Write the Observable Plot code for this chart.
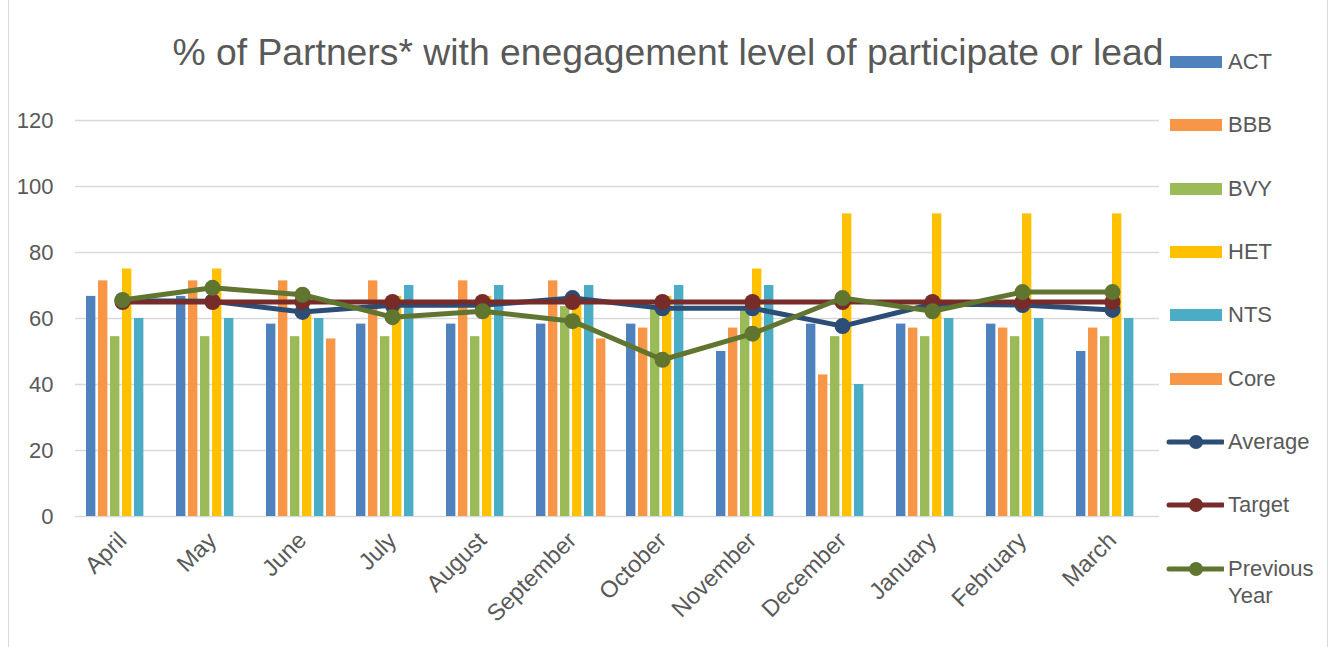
<!DOCTYPE html>
<html>
<head>
<meta charset="utf-8">
<script src="https://cdn.jsdelivr.net/npm/d3@7"></script>
<script src="https://cdn.jsdelivr.net/npm/@observablehq/plot@0.6"></script>
<style>
  html, body { margin: 0; padding: 0; background: #fff; }
  body { width: 1330px; height: 647px; position: relative; overflow: hidden; font-family: "Liberation Sans", Arial, sans-serif; color: #595959; }
  #frame { position: absolute; left: 8px; top: -2px; width: 1318px; height: 700px; border: 1px solid #D9D9D9; }
  #chart { position: absolute; left: 0; top: 0; }
  #title { position: absolute; left: 0; width: 1330px; top: 34px; line-height: 36px; text-align: center; font-size: 37.3px; white-space: nowrap; padding-left: 6px; box-sizing: border-box; }
  .leg { position: absolute; left: 1166px; font-size: 22px; display: flex; align-items: center; }
  .leg svg { margin-right: 4px; }
</style>
</head>
<body>
<div id="frame"></div>
<div id="chart"></div>
<div id="title">% of Partners* with enegagement level of participate or lead</div>
<div id="legend"></div>
<script>
const months = ["April","May","June","July","August","September","October","November","December","January","February","March"];
const ACT = [66.7,66.7,58.3,58.3,58.3,58.3,58.3,50,58.3,58.3,58.3,50];
const BBB = [71.4,71.4,71.4,71.4,71.4,71.4,57.1,57.1,42.9,57.1,57.1,57.1];
const BVY = [54.5,54.5,54.5,54.5,54.5,63.6,63.6,63.6,54.5,54.5,54.5,54.5];
const HET = [75,75,62.5,66.7,66.7,66.7,66.7,75,91.7,91.7,91.7,91.7];
const NTS = [60,60,60,70,70,70,70,70,40,60,60,60];
const Core = [null,null,53.8,null,null,53.8,null,null,null,null,null,null];
const Average = [65.4,65.2,62,64,64,66.2,63.1,63.1,57.7,64.4,64.1,62.6];
const Target = [65,65,65,65,65,65,65,65,65,65,65,65];
const PreviousYear = [65.6,69.3,67.2,60.4,62.2,59.2,47.5,55.4,66.2,62.2,68,68];
const yTicks = [0,20,40,60,80,100,120];

const barSeries = [
  {name: "ACT", values: ACT, color: "#4F81BD"},
  {name: "BBB", values: BBB, color: "#F79646"},
  {name: "BVY", values: BVY, color: "#9BBB59"},
  {name: "HET", values: HET, color: "#FFC000"},
  {name: "NTS", values: NTS, color: "#4BACC6"},
  {name: "Core", values: Core, color: "#F79646"}
];
const lineSeries = [
  {name: "Average", values: Average, color: "#2C4D75"},
  {name: "Target", values: Target, color: "#772C2A"},
  {name: "Previous Year", values: PreviousYear, color: "#5F7530"}
];

const W = 1330, H = 647, mL = 75, mR = 171, mT = 120, mB = 131;
const bw = (W - mL - mR) / months.length;
const slot = 12, barW = 9.7, lead = 9;

const rows = s => months.map((m, i) => ({month: m, value: s.values[i]}));

const marks = [
  Plot.ruleY(yTicks, {stroke: "#D9D9D9", strokeWidth: 1.5})
];
barSeries.forEach((s, i) => {
  const left = lead + slot * i;
  marks.push(Plot.barY(rows(s).filter(d => d.value != null), {
    x: "month", y: "value", fill: s.color,
    insetLeft: left, insetRight: bw - left - barW
  }));
});
lineSeries.forEach(s => {
  marks.push(Plot.line(rows(s), {x: "month", y: "value", stroke: s.color, strokeWidth: 5}));
  marks.push(Plot.dot(rows(s), {x: "month", y: "value", fill: s.color, r: 8}));
});

const chart = Plot.plot({
  width: W, height: H,
  marginLeft: mL, marginRight: mR, marginTop: mT, marginBottom: mB,
  style: {fontSize: "22px", fontFamily: "'Liberation Sans', Arial, sans-serif", color: "#595959", background: "transparent", overflow: "visible"},
  x: {type: "band", domain: months, padding: 0, tickRotate: -45, tickSize: 0, tickPadding: 20, label: null},
  y: {domain: [0, 120], ticks: yTicks, tickSize: 0, tickPadding: 22, label: null},
  marks
});
chart.querySelectorAll('[aria-label="x-axis tick label"] text, g[aria-label="x-axis"] text').forEach(t => t.style.fontSize = "23.5px");
document.getElementById("chart").appendChild(chart);

const legend = document.getElementById("legend");
const entries = [...barSeries.map(s => ({...s, kind: "bar"})), ...lineSeries.map(s => ({...s, kind: "line"}))];
entries.forEach((e, i) => {
  const div = document.createElement("div");
  div.className = "leg";
  const cy = 61 + i * 63.3;
  div.style.top = (cy - 12) + "px";
  const ns = "http://www.w3.org/2000/svg";
  const svg = document.createElementNS(ns, "svg");
  svg.setAttribute("width", 58); svg.setAttribute("height", 24);
  if (e.kind === "bar") {
    const r = document.createElementNS(ns, "rect");
    r.setAttribute("x", 4); r.setAttribute("y", 6); r.setAttribute("width", 52); r.setAttribute("height", 12);
    r.setAttribute("fill", e.color);
    svg.appendChild(r);
  } else {
    const l = document.createElementNS(ns, "line");
    l.setAttribute("x1", 3); l.setAttribute("x2", 57); l.setAttribute("y1", 12); l.setAttribute("y2", 12);
    l.setAttribute("stroke", e.color); l.setAttribute("stroke-width", 5); l.setAttribute("stroke-linecap", "round");
    const c = document.createElementNS(ns, "circle");
    c.setAttribute("cx", 30); c.setAttribute("cy", 12); c.setAttribute("r", 7); c.setAttribute("fill", e.color);
    svg.appendChild(l); svg.appendChild(c);
  }
  div.appendChild(svg);
  const t = document.createElement("span");
  if (e.name === "Previous Year") {
    t.innerHTML = "Previous<br>Year";
    t.style.lineHeight = "27px";
    div.style.alignItems = "flex-start";
    svg.style.marginTop = "2px";
  } else {
    t.textContent = e.name;
  }
  div.appendChild(t);
  legend.appendChild(div);
});
</script>
</body>
</html>
